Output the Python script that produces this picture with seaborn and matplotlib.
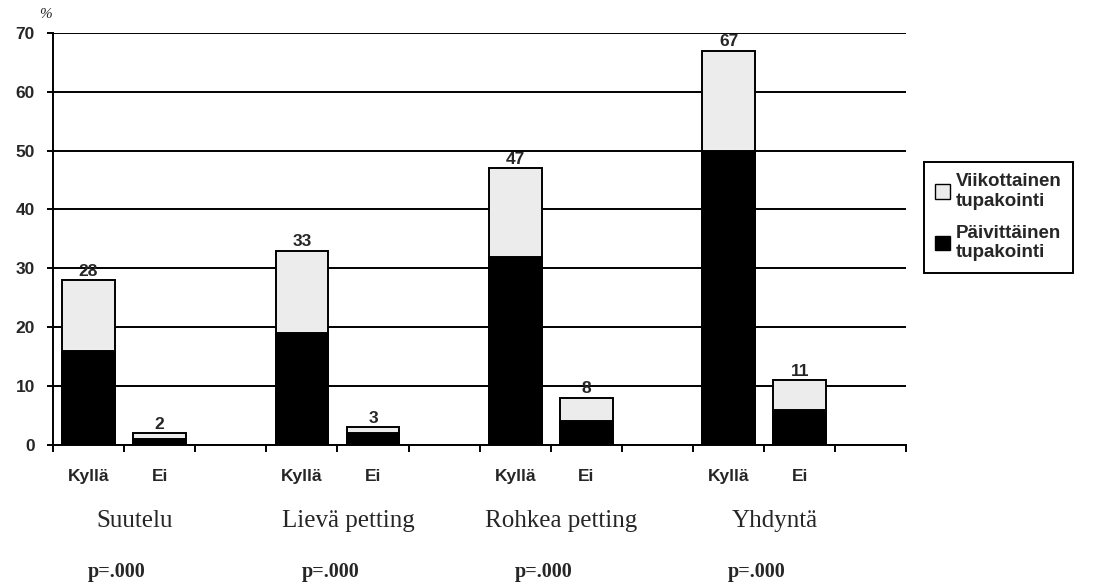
import pandas as pd
import seaborn as sns
import matplotlib.pyplot as plt
from matplotlib.patches import Patch
from matplotlib.transforms import blended_transform_factory

# data
groups = ['Suutelu', 'Lievä petting', 'Rohkea petting', 'Yhdyntä']
answers = ['Kyllä', 'Ei']
total = [28, 2, 33, 3, 47, 8, 67, 11]      # päivittäinen + viikottainen
daily = [16, 1, 19, 2, 32, 4, 50, 6]       # päivittäinen tupakointi
p_values = ['p=.000', 'p=.000', 'p=.000', 'p=.000']

slots = []
order = []
for g in groups:
    for a in answers:
        slots.append(g + '|' + a)
    order += [g + '|' + a for a in answers] + [g + '|']
df = pd.DataFrame({'slot': slots, 'total': total, 'daily': daily})

sns.set_style('white')
plt.rcParams['font.family'] = ['Liberation Sans', 'DejaVu Sans']

fig = plt.figure(figsize=(11.04, 5.87), dpi=100)
ax = fig.add_axes([0.048, 0.242, 0.773, 0.702])

weekly_col = '#ececec'
sns.barplot(data=df, x='slot', y='total', order=order, color=weekly_col,
            edgecolor='black', linewidth=1.4, width=0.74, saturation=1, ax=ax)
sns.barplot(data=df, x='slot', y='daily', order=order, color='black',
            edgecolor='black', linewidth=1.4, width=0.74, saturation=1, ax=ax)
ax.bar_label(ax.containers[0], fmt='%g', padding=1, fontsize=12.5, fontweight='bold')

ax.set_ylim(0, 70)
ax.set_xlim(-0.5, len(order) - 0.5)
ax.set_yticks(range(0, 71, 10))
ax.yaxis.grid(True, color='black', linewidth=1.4)
ax.set_axisbelow(True)
for s in ['top', 'right']:
    ax.spines[s].set_visible(False)
for s in ['left', 'bottom']:
    ax.spines[s].set_color('black')
    ax.spines[s].set_linewidth(1.4)

# tick labels under each bar, boundary ticks between slots
centers = [order.index(s) for s in slots]
ax.set_xticks(centers)
ax.set_xticklabels([s.split('|')[1] for s in slots], fontsize=12.5, fontweight='bold')
ax.set_xticks([i - 0.5 for i in range(len(order) + 1)], minor=True)
ax.tick_params(axis='x', which='major', bottom=True, length=0, pad=17)
ax.tick_params(axis='x', which='minor', bottom=True, length=5, width=1.4, color='black',
               direction='out')
ax.tick_params(axis='y', left=True, length=4, width=1.4, color='black', direction='out',
               pad=9, labelsize=12.5)
for t in ax.get_yticklabels():
    t.set_fontweight('bold')
ax.set_xlabel('')
ax.set_ylabel('')

trans = blended_transform_factory(ax.transData, ax.transAxes)
for i, g in enumerate(groups):
    x0 = order.index(g + '|Kyllä')
    ax.text(x0 + 0.65, -0.185, g, transform=trans, ha='center', va='center',
            family='Liberation Serif', fontsize=18)
    ax.text(x0 + 0.4, -0.308, p_values[i], transform=trans, ha='center', va='center',
            family='Liberation Serif', fontsize=14.5, fontweight='bold')

fig.text(45 / 1104, 1 - 15 / 587, '%', family='Liberation Serif', style='italic',
         fontsize=11, ha='center', va='center')

handles = [Patch(facecolor=weekly_col, edgecolor='black', label='Viikottainen\ntupakointi'),
           Patch(facecolor='black', edgecolor='black', label='Päivittäinen\ntupakointi')]
leg = fig.legend(handles=handles, loc='upper left', bbox_to_anchor=(924 / 1104, 1 - 162 / 587),
                 fancybox=False, framealpha=1, edgecolor='black',
                 prop={'weight': 'bold', 'size': 13.5}, handlelength=0.8, handleheight=0.8,
                 handletextpad=0.3, labelspacing=0.8, borderpad=0.6, borderaxespad=0)
leg.get_frame().set_linewidth(1.4)

fig.savefig('out.png', dpi=100)
